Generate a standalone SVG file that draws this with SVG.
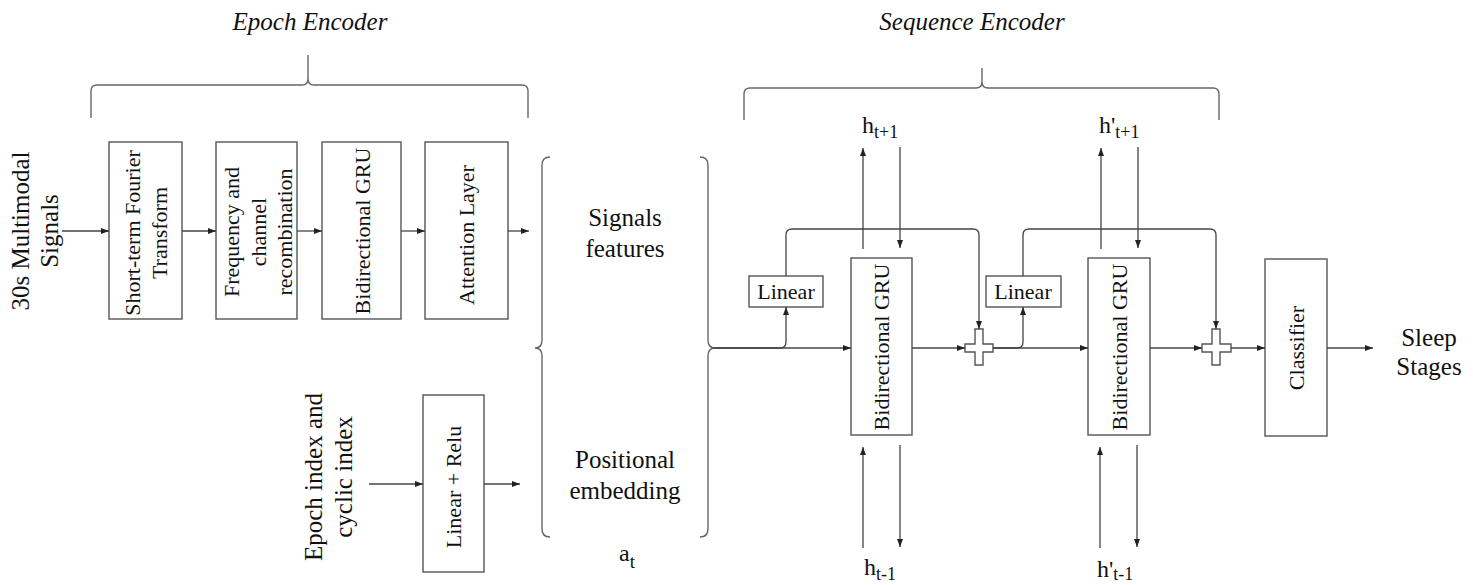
<svg xmlns="http://www.w3.org/2000/svg" width="1473" height="585" viewBox="0 0 1473 585">
<defs>
<marker id="ah" viewBox="0 0 8 6" refX="8" refY="3" markerWidth="8" markerHeight="6" markerUnits="userSpaceOnUse" orient="auto">
<path d="M0,0 L8,3 L0,6 z" fill="#222"/>
</marker>
<style>
.box{fill:#fff;stroke:#555;stroke-width:1.4}
.ar{fill:none;stroke:#444;stroke-width:1.3;marker-end:url(#ah)}
.br{fill:none;stroke:#666;stroke-width:1.4}
.t{font-family:"Liberation Serif",serif;fill:#111}
.bt{font-family:"Liberation Serif",serif;font-size:22px;fill:#111;text-anchor:middle}
.it{font-family:"Liberation Serif",serif;font-style:italic;font-size:25px;fill:#111;text-anchor:middle}
</style>
</defs>
<rect width="1473" height="585" fill="#fff"/>

<g id="titles">
<text class="it" x="310" y="30">Epoch Encoder</text>
<text class="it" x="972" y="30">Sequence Encoder</text>
</g>

<g id="braces">
<path class="br" d="M91,118 V91 Q91,85 97,85 H302 Q308,85 308,79 V55 M308,79 Q308,85 314,85 H522 Q528,85 528,91 V118"/>
<path class="br" d="M744,120 V94 Q744,88 750,88 H976 Q982,88 982,82 V68 M982,82 Q982,88 988,88 H1213 Q1219,88 1219,94 V120"/>
<path class="br" d="M550,157 Q542,157 542,165 V340 Q542,348 535,348 Q542,348 542,356 V529 Q542,537 550,537"/>
<path class="br" d="M700,157 Q708,157 708,165 V340 Q708,348 715,348 Q708,348 708,356 V529 Q708,537 700,537"/>
</g>

<g id="input-signals">
<text class="t" font-size="25" text-anchor="middle" transform="translate(29,231) rotate(-90)">30s Multimodal<tspan x="0" dy="29">Signals</tspan></text>
</g>

<g id="stft">
<rect class="box" x="109" y="142" width="73" height="177"/>
<text class="bt" transform="translate(140,233) rotate(-90)">Short-term Fourier<tspan x="0" dy="26.5">Transform</tspan></text>
</g>

<g id="freq">
<rect class="box" x="216" y="142" width="81" height="177"/>
<text class="bt" transform="translate(239,232) rotate(-90)">Frequency and<tspan x="0" dy="26.5">channel</tspan><tspan x="0" dy="26.5">recombination</tspan></text>
</g>

<g id="bigru-epoch">
<rect class="box" x="322" y="142" width="79" height="177"/>
<text class="bt" transform="translate(370,231) rotate(-90)">Bidirectional GRU</text>
</g>

<g id="attention">
<rect class="box" x="425" y="142" width="83" height="177"/>
<text class="bt" transform="translate(474,235) rotate(-90)">Attention Layer</text>
</g>

<g id="epoch-index">
<text class="t" font-size="25" text-anchor="middle" transform="translate(322,477) rotate(-90)">Epoch index and<tspan x="0" dy="30">cyclic index</tspan></text>
</g>

<g id="linear-relu">
<rect class="box" x="423" y="395" width="61" height="177"/>
<text class="bt" transform="translate(461,487) rotate(-90)">Linear + Relu</text>
</g>

<g id="at-labels">
<text class="t" font-size="25" text-anchor="middle" x="625" y="226">Signals</text>
<text class="t" font-size="25" text-anchor="middle" x="625" y="257">features</text>
<text class="t" font-size="25" text-anchor="middle" x="625" y="468">Positional</text>
<text class="t" font-size="25" text-anchor="middle" x="625" y="499">embedding</text>
<text class="t" font-size="24" x="619" y="561">a<tspan font-size="19" dy="7">t</tspan></text>
</g>

<g id="linear1">
<rect class="box" x="749" y="276" width="74" height="31"/>
<text class="bt" x="786" y="299">Linear</text>
</g>

<g id="bigru1">
<rect class="box" x="851" y="258" width="61" height="177"/>
<text class="bt" transform="translate(889,347) rotate(-90)">Bidirectional GRU</text>
</g>

<g id="plus1">
<polygon class="box" points="975,329 983,329 983,344 993,344 993,352 983,352 983,365 975,365 975,352 965,352 965,344 975,344"/>
</g>

<g id="linear2">
<rect class="box" x="986" y="276" width="75" height="31"/>
<text class="bt" x="1023" y="299">Linear</text>
</g>

<g id="bigru2">
<rect class="box" x="1088" y="258" width="62" height="177"/>
<text class="bt" transform="translate(1127,347) rotate(-90)">Bidirectional GRU</text>
</g>

<g id="plus2">
<polygon class="box" points="1212,329 1220,329 1220,344 1231,344 1231,352 1220,352 1220,365 1212,365 1212,352 1202,352 1202,344 1212,344"/>
</g>

<g id="classifier">
<rect class="box" x="1265" y="259" width="62" height="177"/>
<text class="bt" transform="translate(1304,348) rotate(-90)">Classifier</text>
</g>

<g id="output">
<text class="t" font-size="25" text-anchor="middle" x="1429" y="346">Sleep</text>
<text class="t" font-size="25" text-anchor="middle" x="1429" y="375">Stages</text>
</g>

<g id="hidden-labels">
<text class="t" font-size="24" x="862" y="133">h<tspan font-size="18" dy="5">t+1</tspan></text>
<text class="t" font-size="24" x="1099" y="133">h'<tspan font-size="18" dy="5">t+1</tspan></text>
<text class="t" font-size="24" x="864" y="575">h<tspan font-size="18" dy="5">t-1</tspan></text>
<text class="t" font-size="24" x="1097" y="577">h'<tspan font-size="18" dy="3">t-1</tspan></text>
</g>

<g id="connectors">
<path class="ar" d="M62,231 H109"/>
<path class="ar" d="M182,231 H216"/>
<path class="ar" d="M297,231 H322"/>
<path class="ar" d="M401,231 H425"/>
<path class="ar" d="M508,231 H529"/>
<path class="ar" d="M369,484 H423"/>
<path class="ar" d="M484,484 H520"/>
<path class="ar" d="M715,348 H851"/>
<path class="ar" d="M713,348 H780 Q786,348 786,342 V307"/>
<path class="ar" d="M786,276 V235 Q786,229 792,229 H973 Q979,229 979,235 V329"/>
<path class="ar" d="M912,348 H965"/>
<path class="ar" d="M993,348 H1088"/>
<path class="ar" d="M993,348 H1017 Q1023,348 1023,342 V307"/>
<path class="ar" d="M1023,276 V235 Q1023,229 1029,229 H1210 Q1216,229 1216,235 V329"/>
<path class="ar" d="M1150,348 H1202"/>
<path class="ar" d="M1231,348 H1265"/>
<path class="ar" d="M1327,348 H1373"/>
<path class="ar" d="M863,249 V148"/>
<path class="ar" d="M900,147 V248"/>
<path class="ar" d="M863,548 V447"/>
<path class="ar" d="M900,445 V547"/>
<path class="ar" d="M1101,249 V148"/>
<path class="ar" d="M1138,147 V248"/>
<path class="ar" d="M1100,548 V447"/>
<path class="ar" d="M1137,445 V547"/>
</g>
</svg>
